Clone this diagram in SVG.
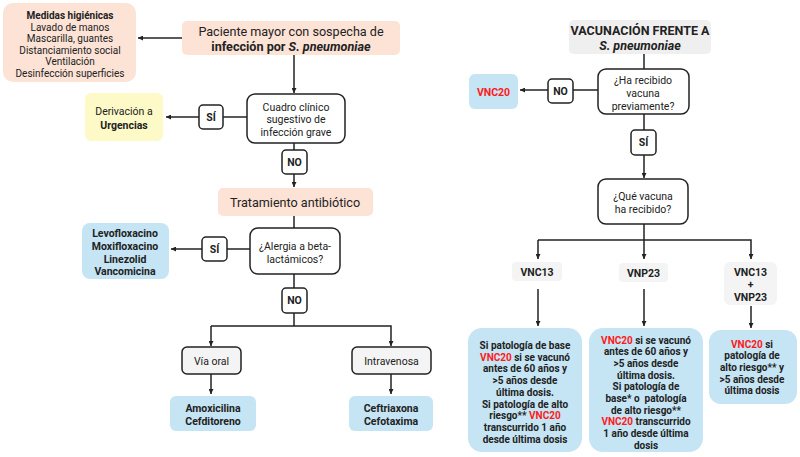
<svg xmlns="http://www.w3.org/2000/svg" width="800" height="457" viewBox="0 0 800 457">
<defs>
<marker id="ah" viewBox="0 0 10 10" refX="10" refY="5" markerWidth="5" markerHeight="5" orient="auto" markerUnits="userSpaceOnUse"><path d="M0,0 L10,5 L0,10 z" fill="#222"/></marker>
<style>
text{font-family:Roboto,"Liberation Sans",sans-serif;fill:#222;text-anchor:middle}
.pink{fill:#fce3d6}
.yellow{fill:#fdfac8}
.blue{fill:#c5e4f4}
.gray{fill:#efefef}
.lbl{fill:#f4f4f4}
.dec{fill:#fff;stroke:#222;stroke-width:1.5}
.opt{fill:#f4f4f4;stroke:#222;stroke-width:1.5}
.yn{fill:#fff;stroke:#222;stroke-width:1.5}
.s10{font-size:10px}
.s105{font-size:10.5px}
.s13{font-size:12.6px}
.b{font-weight:bold}
.r{fill:#ff1a1a}
.c line,.c polyline{fill:none;stroke:#222;stroke-width:1.5}
</style>
</defs>
<rect width="800" height="457" fill="#fff"/>

<g class="c" id="connectors">
<line x1="182" y1="38" x2="138" y2="38" marker-end="url(#ah)"/>
<line x1="294" y1="55" x2="294" y2="93" marker-end="url(#ah)"/>
<line x1="247" y1="117" x2="223" y2="117"/>
<line x1="199" y1="117" x2="166" y2="117" marker-end="url(#ah)"/>
<line x1="294" y1="143" x2="294" y2="150"/>
<line x1="294" y1="174" x2="294" y2="187" marker-end="url(#ah)"/>
<line x1="294" y1="216" x2="294" y2="228"/>
<line x1="250" y1="249" x2="227" y2="249"/>
<line x1="202" y1="249" x2="171" y2="249" marker-end="url(#ah)"/>
<line x1="294" y1="274" x2="294" y2="288"/>
<line x1="294" y1="313" x2="294" y2="326"/>
<polyline points="211,326 391,326 391,346" marker-end="url(#ah)"/>
<line x1="211" y1="326" x2="211" y2="346" marker-end="url(#ah)"/>
<line x1="211" y1="374" x2="211" y2="394" marker-end="url(#ah)"/>
<line x1="391" y1="374" x2="391" y2="394" marker-end="url(#ah)"/>
<line x1="644" y1="54" x2="644" y2="69"/>
<line x1="598" y1="90" x2="573" y2="90"/>
<line x1="548" y1="90" x2="520" y2="90" marker-end="url(#ah)"/>
<line x1="644" y1="114" x2="644" y2="130"/>
<line x1="644" y1="155" x2="644" y2="178" marker-end="url(#ah)"/>
<line x1="644" y1="224" x2="644" y2="259" marker-end="url(#ah)"/>
<polyline points="538,240 751,240 751,259" marker-end="url(#ah)"/>
<line x1="538" y1="240" x2="538" y2="259" marker-end="url(#ah)"/>
<line x1="538" y1="289" x2="538" y2="326" marker-end="url(#ah)"/>
<line x1="644" y1="289" x2="644" y2="326" marker-end="url(#ah)"/>
<line x1="751" y1="306" x2="751" y2="328" marker-end="url(#ah)"/>
</g>

<g id="medidas">
<rect class="pink" x="3" y="3" width="133" height="79" rx="10"/>
<text class="s10"><tspan x="70" y="19" class="b">Medidas higiénicas</tspan><tspan x="70" y="30.5">Lavado de manos</tspan><tspan x="70" y="42">Mascarilla, guantes</tspan><tspan x="70" y="53.5">Distanciamiento social</tspan><tspan x="70" y="65">Ventilación</tspan><tspan x="70" y="76.5">Desinfección superficies</tspan></text>
</g>

<g id="paciente">
<rect class="pink" x="182" y="21" width="218" height="34" rx="5"/>
<text class="s13"><tspan x="291" y="36">Paciente mayor con sospecha de</tspan><tspan x="291" y="51" class="b">infección por <tspan font-style="italic">S. pneumoniae</tspan></tspan></text>
</g>

<g id="cuadro">
<rect class="dec" x="247" y="94" width="98" height="49" rx="8"/>
<text class="s105"><tspan x="296" y="111">Cuadro clínico</tspan><tspan x="296" y="123">sugestivo de</tspan><tspan x="296" y="136">infección grave</tspan></text>
</g>

<g id="si1">
<rect class="yn" x="199" y="105" width="24" height="24" rx="4"/>
<text class="s105 b" x="211" y="121">SÍ</text>
</g>

<g id="derivacion">
<rect class="yellow" x="85" y="93" width="78" height="48" rx="6"/>
<text class="s105"><tspan x="124" y="115">Derivación a</tspan><tspan x="124" y="129" class="b">Urgencias</tspan></text>
</g>

<g id="no1">
<rect class="yn" x="282" y="150" width="25" height="24" rx="4"/>
<text class="s105 b" x="294.5" y="166">NO</text>
</g>

<g id="tratamiento">
<rect class="pink" x="218" y="188" width="155" height="28" rx="5"/>
<text class="s13" x="295" y="207">Tratamiento antibiótico</text>
</g>

<g id="alergia">
<rect class="dec" x="250" y="228" width="90" height="46" rx="8"/>
<text class="s105"><tspan x="295" y="250">¿Alergia a beta-</tspan><tspan x="295" y="263">lactámicos?</tspan></text>
</g>

<g id="si2">
<rect class="yn" x="202" y="237" width="25" height="24" rx="4"/>
<text class="s105 b" x="214.5" y="253">SÍ</text>
</g>

<g id="levo">
<rect class="blue" x="82" y="223" width="87" height="56" rx="8"/>
<text class="s105 b"><tspan x="125" y="237">Levofloxacino</tspan><tspan x="125" y="250">Moxifloxacino</tspan><tspan x="125" y="263">Linezolid</tspan><tspan x="125" y="275">Vancomicina</tspan></text>
</g>

<g id="no2">
<rect class="yn" x="282" y="288" width="25" height="25" rx="4"/>
<text class="s105 b" x="294.5" y="304">NO</text>
</g>

<g id="viaoral">
<rect class="opt" x="182" y="347" width="59" height="27" rx="5"/>
<text class="s105" x="211.5" y="364.5">Vía oral</text>
</g>

<g id="amoxi">
<rect class="blue" x="170" y="396" width="86" height="35" rx="6"/>
<text class="s105 b"><tspan x="213" y="412">Amoxicilina</tspan><tspan x="213" y="425">Cefditoreno</tspan></text>
</g>

<g id="intravenosa">
<rect class="opt" x="352" y="347" width="79" height="27" rx="5"/>
<text class="s105" x="391.5" y="364.5">Intravenosa</text>
</g>

<g id="ceftri">
<rect class="blue" x="349" y="396" width="84" height="35" rx="6"/>
<text class="s105 b"><tspan x="391" y="412">Ceftriaxona</tspan><tspan x="391" y="425">Cefotaxima</tspan></text>
</g>

<g id="vacunacion">
<rect class="gray" x="569" y="20" width="142" height="34" rx="5"/>
<text class="b" font-size="12.5"><tspan x="640" y="35">VACUNACIÓN FRENTE A</tspan><tspan x="640" y="50" font-style="italic">S. pneumoniae</tspan></text>
</g>

<g id="harecibido">
<rect class="dec" x="598" y="69" width="91" height="45" rx="8"/>
<text class="s105"><tspan x="643" y="84">¿Ha recibido</tspan><tspan x="643" y="97">vacuna</tspan><tspan x="643" y="110">previamente?</tspan></text>
</g>

<g id="no3">
<rect class="yn" x="548" y="79" width="25" height="24" rx="4"/>
<text class="s105 b" x="560.5" y="95">NO</text>
</g>

<g id="vnc20">
<rect class="blue" x="469" y="74" width="49" height="35" rx="6"/>
<text class="s105 b r" x="493.5" y="95.5">VNC20</text>
</g>

<g id="si3">
<rect class="yn" x="631" y="130" width="25" height="25" rx="4"/>
<text class="s105 b" x="643.5" y="146">SÍ</text>
</g>

<g id="quevacuna">
<rect class="dec" x="598" y="179" width="90" height="45" rx="8"/>
<text class="s105"><tspan x="643" y="200">¿Qué vacuna</tspan><tspan x="643" y="213">ha recibido?</tspan></text>
</g>

<g id="vnc13">
<rect class="lbl" x="512" y="262" width="50" height="19" rx="4"/>
<text class="s105 b" x="537" y="275.5">VNC13</text>
</g>

<g id="vnp23">
<rect class="lbl" x="619" y="263" width="49" height="19" rx="4"/>
<text class="s105 b" x="643.5" y="276.5">VNP23</text>
</g>

<g id="vnc13vnp23">
<rect class="lbl" x="724" y="262" width="53" height="43" rx="6"/>
<text class="s105 b"><tspan x="750.5" y="275.5">VNC13</tspan><tspan x="750.5" y="288">+</tspan><tspan x="750.5" y="300.5">VNP23</tspan></text>
</g>

<g id="res1">
<rect class="blue" x="468" y="328" width="114" height="124" rx="14"/>
<text class="s10 b"><tspan x="525" y="349">Si patología de base</tspan><tspan x="525" y="360.7"><tspan class="r">VNC20</tspan> si se vacunó</tspan><tspan x="525" y="372.4">antes de 60 años y</tspan><tspan x="525" y="384.1">&gt;5 años desde</tspan><tspan x="525" y="395.8">última dosis.</tspan><tspan x="525" y="407.5">Si patología de alto</tspan><tspan x="525" y="419.2">riesgo** <tspan class="r">VNC20</tspan></tspan><tspan x="525" y="430.9">transcurrido 1 año</tspan><tspan x="525" y="442.6">desde última dosis</tspan></text>
</g>

<g id="res2">
<rect class="blue" x="589" y="328" width="114" height="124" rx="14"/>
<text class="s10 b"><tspan x="646" y="343.5"><tspan class="r">VNC20</tspan> si se vacunó</tspan><tspan x="646" y="355.2">antes de 60 años y</tspan><tspan x="646" y="366.9">&gt;5 años desde</tspan><tspan x="646" y="378.6">última dosis.</tspan><tspan x="646" y="390.3">Si patología de</tspan><tspan x="646" y="402">base* o&#160; patología</tspan><tspan x="646" y="413.7">de alto riesgo**</tspan><tspan x="646" y="425.4"><tspan class="r">VNC20</tspan> transcurrido</tspan><tspan x="646" y="437.1">1 año desde última</tspan><tspan x="646" y="448.8">dosis</tspan></text>
</g>

<g id="res3">
<rect class="blue" x="709" y="330" width="88" height="74" rx="12"/>
<text class="s10 b"><tspan x="752" y="347.5"><tspan class="r">VNC20</tspan> si</tspan><tspan x="752" y="359.2">patología de</tspan><tspan x="752" y="370.9">alto riesgo** y</tspan><tspan x="752" y="382.6">&gt;5 años desde</tspan><tspan x="752" y="394.3">última dosis</tspan></text>
</g>
</svg>
